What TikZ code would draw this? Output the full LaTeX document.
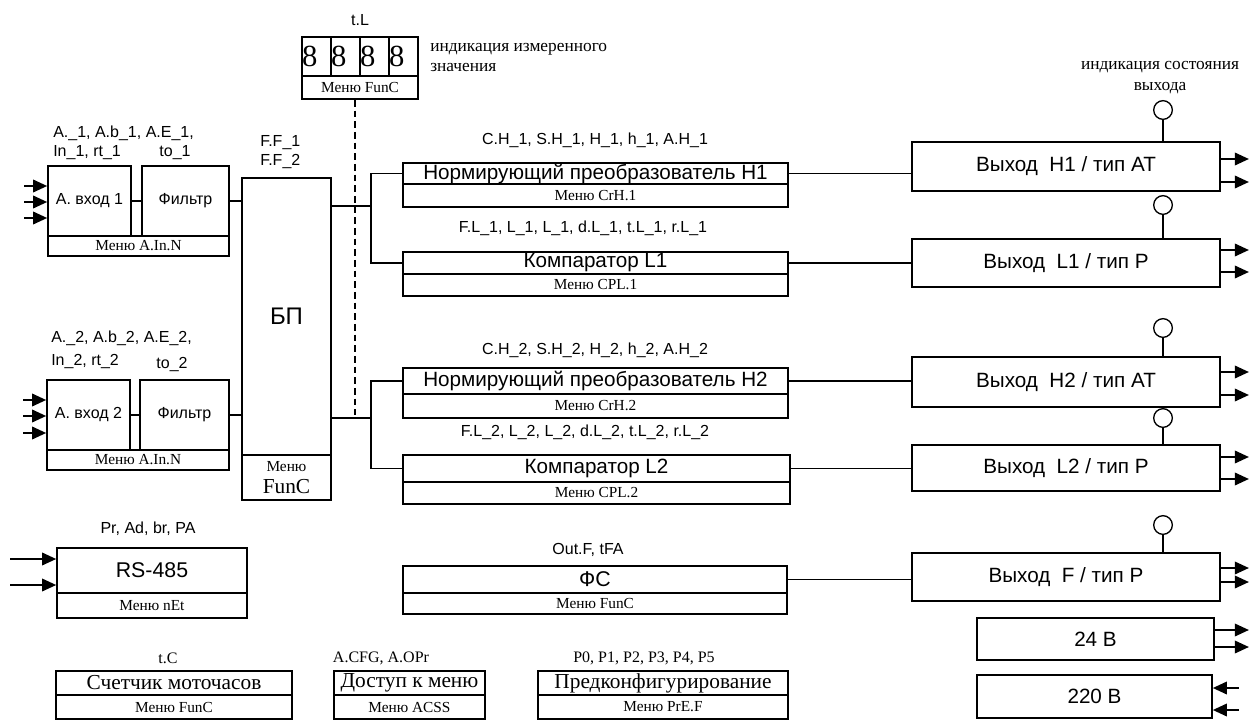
\documentclass[tikz,border=0pt]{standalone}
\usepackage{fontspec}
\setmainfont{Liberation Serif}
\setsansfont{Liberation Sans}
\usetikzlibrary{arrows.meta}
\newcommand{\fLab}{\sffamily\fontsize{12}{14}\selectfont}
\newcommand{\fBox}{\sffamily\fontsize{12}{14}\selectfont}
\newcommand{\fMid}{\sffamily\fontsize{15.5}{18}\selectfont}
\newcommand{\fBig}{\sffamily\fontsize{16}{19}\selectfont}
\newcommand{\fMenu}{\rmfamily\fontsize{11.5}{13}\selectfont}
\newcommand{\fNote}{\rmfamily\fontsize{13}{15.5}\selectfont}
\newcommand{\fDig}{\rmfamily\fontsize{23}{24}\selectfont}
\newcommand{\fTitle}{\rmfamily\fontsize{16}{18}\selectfont}
\newcommand{\fSer}{\rmfamily\fontsize{12}{14}\selectfont}
\def\upx{0.75pt}
\tikzset{
  blk/.style={draw, line width=1.3pt, inner sep=0pt, font=\fBox},
  mnu/.style={draw, line width=1.3pt, inner sep=0pt, font=\fMenu},
  lab/.style={inner sep=0pt, font=\fLab},
  wire/.style={line width=1pt},
  outarr/.style={line width=1pt, -{Triangle[length=10.5pt,width=9.5pt]}},
  inarr/.style={line width=1pt, {Triangle[length=10.5pt,width=9.5pt]}-},
  lamp/.style={draw, circle, line width=1pt, minimum size=14pt, inner sep=0pt},
}
\begin{document}
\begin{tikzpicture}[x=0.75pt,y=-0.75pt]
\useasboundingbox (0,0) rectangle (1256,721);

% БП
\node[blk, font=\sffamily\fontsize{18}{20}\selectfont, minimum width=89*\upx, minimum height=277*\upx] (bp) at (286.5,316.5) {БП};
\node[mnu, minimum width=89*\upx, minimum height=45*\upx, align=center] (bpm) at (286.5,477.5)
  {Меню\\[3pt]{\fontsize{16}{16}\selectfont FunC}};
\node[lab, anchor=west] (bpla) at (260,143) {F.F\_1};
\node[lab, anchor=west] (bplb) at (260,162) {F.F\_2};

% analog input 1
\node[blk, minimum width=83*\upx, minimum height=70*\upx] (ain1) at (89.5,201) {А. вход 1};
\node[blk, minimum width=87*\upx, minimum height=70*\upx] (filt1) at (185.5,201) {Фильтр};
\node[mnu, minimum width=181*\upx, minimum height=20*\upx] (ain1m) at (138.5,246) {Меню A.In.N};
\node[lab, anchor=west] (ain1la) at (53,133) {A.\_1, A.b\_1, A.E\_1,};
\node[lab, anchor=west] (ain1lb) at (53,153) {In\_1, rt\_1};
\node[lab] (filt1l) at (175,153) {to\_1};
\foreach \y in {186,202,218}
  \draw[inarr] (ain1.west |- 0,\y) -- +(-23,0);
\draw[wire] (ain1) -- (filt1);
\draw[wire] (filt1.east) -- (filt1.east -| bp.west);

% analog input 2
\node[blk, minimum width=83*\upx, minimum height=70*\upx] (ain2) at (88.5,415) {А. вход 2};
\node[blk, minimum width=89*\upx, minimum height=70*\upx] (filt2) at (184.5,415) {Фильтр};
\node[mnu, minimum width=182*\upx, minimum height=20*\upx] (ain2m) at (138,460) {Меню A.In.N};
\node[lab, anchor=west] (ain2la) at (51,338) {A.\_2, A.b\_2, A.E\_2,};
\node[lab, anchor=west] (ain2lb) at (51,361) {In\_2, rt\_2};
\node[lab] (filt2l) at (172,364) {to\_2};
\foreach \y in {400,416,433}
  \draw[inarr] (ain2.west |- 0,\y) -- +(-23,0);
\draw[wire] (ain2) -- (filt2);
\draw[wire] (filt2.east) -- (filt2.east -| bp.west);

% indicator
\foreach \i/\x in {1/316.5,2/345.5,3/374.5,4/403.5}
  \node[blk, font=\fDig, minimum width=29*\upx, minimum height=39*\upx,
        text width=29*\upx, align=left] (dig\i) at (\x,56.5) {8};
\node[mnu, minimum width=116*\upx, minimum height=23*\upx] (dispm) at (360,87.5) {Меню FunC};
\node[lab] (displ) at (360,20) {t.L};
\node[font=\fNote, anchor=west, align=left, inner sep=0pt] (dispn) at (430,57.5)
  {индикация измеренного\\значения};
\coordinate (dend) at (355,415);
\draw[wire, dash pattern=on 5pt off 3pt] (dend |- dispm.south) -- (dend);

% channel 1
\node[blk, font=\fMid, minimum width=385*\upx, minimum height=21*\upx] (norm1) at (595.5,173.5)
  {Нормирующий преобразователь Н1};
\node[mnu, minimum width=385*\upx, minimum height=23*\upx] (norm1m) at (595.5,195.5) {Меню CrH.1};
\node[lab] (norm1l) at (595,140) {C.H\_1, S.H\_1, H\_1, h\_1, A.H\_1};
\node[blk, font=\fMid, minimum width=385*\upx, minimum height=22*\upx] (comp1) at (595.5,263) {Компаратор L1};
\node[mnu, minimum width=385*\upx, minimum height=22*\upx] (comp1m) at (595.5,285) {Меню CPL.1};
\node[lab] (comp1l) at (583,228) {F.L\_1, L\_1, L\_1, d.L\_1, t.L\_1, r.L\_1};
\coordinate (bus1) at (371,206);
\draw[wire] (bus1 -| bp.east) -- (bus1);
\draw[wire] (norm1.west) -| (bus1) |- (comp1.west);

% channel 2
\node[blk, font=\fMid, minimum width=385*\upx, minimum height=26*\upx] (norm2) at (595.5,381)
  {Нормирующий преобразователь Н2};
\node[mnu, minimum width=385*\upx, minimum height=24*\upx] (norm2m) at (595.5,406) {Меню CrH.2};
\node[lab] (norm2l) at (595,350) {C.H\_2, S.H\_2, H\_2, h\_2, A.H\_2};
\node[blk, font=\fMid, minimum width=387*\upx, minimum height=27*\upx] (comp2) at (596.5,468.5) {Компаратор L2};
\node[mnu, minimum width=387*\upx, minimum height=22*\upx] (comp2m) at (596.5,493) {Меню CPL.2};
\node[lab] (comp2l) at (585,432) {F.L\_2, L\_2, L\_2, d.L\_2, t.L\_2, r.L\_2};
\coordinate (bus2) at (371,418);
\draw[wire] (bus2 -| bp.east) -- (bus2);
\draw[wire] (norm2.west) -| (bus2) |- (comp2.west);

% ФС
\node[blk, font=\fBig, minimum width=384*\upx, minimum height=27*\upx] (fs) at (595,579.5) {ФС};
\node[mnu, minimum width=384*\upx, minimum height=21*\upx] (fsm) at (595,603.5) {Меню FunC};
\node[lab] (fsl) at (588,550) {Out.F, tFA};

% RS-485
\node[blk, font=\fBig, minimum width=190*\upx, minimum height=45*\upx] (rs) at (152,570.5) {RS-485};
\node[mnu, minimum width=190*\upx, minimum height=25*\upx] (rsm) at (152,605.5) {Меню nEt};
\node[lab] (rsl) at (148,529) {Pr, Ad, br, PA};
\foreach \y in {559,585}
  \draw[inarr] (rs.west |- 0,\y) -- +(-46,0);

% outputs
\node[font=\fNote, align=center, inner sep=0pt] (lampn) at (1160,77.5) {индикация состояния\\выхода};
\node[blk, font=\fMid, minimum width=308*\upx, minimum height=49*\upx] (out1) at (1066,166.5) {Выход\ \ H1 / тип AT};
\node[blk, font=\fMid, minimum width=308*\upx, minimum height=48*\upx] (out2) at (1066,263) {Выход\ \ L1 / тип P};
\node[blk, font=\fMid, minimum width=308*\upx, minimum height=50*\upx] (out3) at (1066,382) {Выход\ \ H2 / тип AT};
\node[blk, font=\fMid, minimum width=308*\upx, minimum height=46*\upx] (out4) at (1066,468) {Выход\ \ L2 / тип P};
\node[blk, font=\fMid, minimum width=308*\upx, minimum height=48*\upx] (out5) at (1066,577) {Выход\ \ F / тип P};
\foreach \i/\y in {1/110,2/205,3/328,4/418,5/525} {
  \node[lamp] (lamp\i) at (1163,\y) {};
  \draw[wire] (lamp\i.south) -- (lamp\i.south |- out\i.north);
}
\foreach \i/\ya/\yb in {1/159/182,2/250/272,3/372/395,4/457/479,5/568/582} {
  \draw[outarr] (out\i.east |- 0,\ya) -- +(28,0);
  \draw[outarr] (out\i.east |- 0,\yb) -- +(28,0);
}
\draw[wire] (norm1.east) -- (norm1.east -| out1.west);
\draw[wire] (comp1.east) -- (comp1.east -| out2.west);
\draw[wire] (norm2.east) -- (norm2.east -| out3.west);
\draw[wire] (comp2.east) -- (comp2.east -| out4.west);
\draw[wire] (fs.east) -- (fs.east -| out5.west);

% power
\node[blk, font=\fMid, minimum width=237*\upx, minimum height=42*\upx] (v24) at (1095.5,639) {24 В};
\node[blk, font=\fMid, minimum width=235*\upx, minimum height=43*\upx] (v220) at (1094.5,696.5) {220 В};
\foreach \y in {630,647}
  \draw[outarr] (v24.east |- 0,\y) -- +(34,0);
\foreach \y in {688,710}
  \draw[inarr] (v220.east |- 0,\y) -- +(26,0);

% service blocks
\node[blk, font=\fTitle, minimum width=236*\upx, minimum height=24*\upx] (cnt) at (174,683) {Счетчик моточасов};
\node[mnu, minimum width=236*\upx, minimum height=24*\upx] (cntm) at (174,707) {Меню FunC};
\node[inner sep=0pt, font=\fSer] (cntl) at (168,658) {t.C};
\node[blk, font=\fTitle, minimum width=151*\upx, minimum height=24*\upx] (acc) at (409.5,683) {Доступ к меню};
\node[mnu, minimum width=151*\upx, minimum height=24*\upx] (accm) at (409.5,707) {Меню ACSS};
\node[inner sep=0pt, font=\fSer] (accl) at (381,658) {A.CFG, A.OPr};
\node[blk, font=\fTitle, minimum width=250*\upx, minimum height=24*\upx] (pre) at (663,683) {Предконфигурирование};
\node[mnu, minimum width=250*\upx, minimum height=24*\upx] (prem) at (663,707) {Меню PrE.F};
\node[inner sep=0pt, font=\fSer] (prel) at (644,658) {P0, P1, P2, P3, P4, P5};
\end{tikzpicture}
\end{document}
